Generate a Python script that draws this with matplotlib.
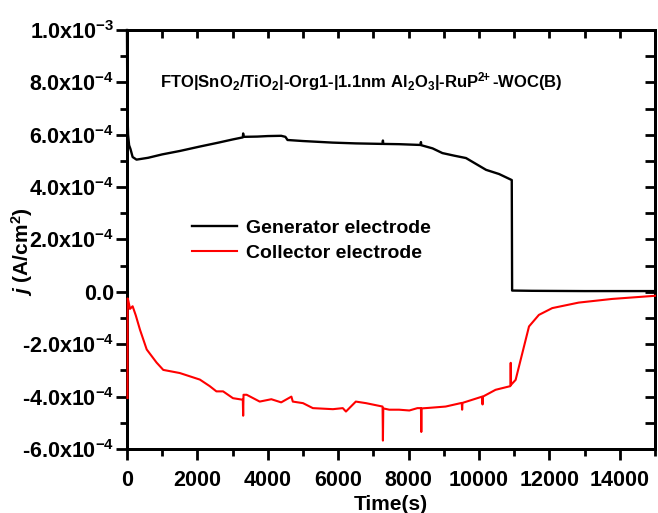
import numpy as np
import matplotlib
matplotlib.use('Agg')
import matplotlib.pyplot as plt
from matplotlib.ticker import MultipleLocator

plt.rcParams['font.family'] = ['Liberation Sans', 'DejaVu Sans']
plt.rcParams['font.weight'] = 'bold'
plt.rcParams['mathtext.fontset'] = 'custom'
plt.rcParams['mathtext.rm'] = 'Liberation Sans:bold'
plt.rcParams['mathtext.bf'] = 'Liberation Sans:bold'
plt.rcParams['mathtext.it'] = 'Liberation Sans:italic:bold'
plt.rcParams['mathtext.default'] = 'regular'

# generator electrode (black), current in units of 1e-4 A/cm2
gen_t = [0, 5, 15, 30, 60, 100, 160, 270, 600, 1000, 1500, 2070, 2600, 3000, 3290,
         3300, 3310, 3700, 4000, 4380, 4500, 4560, 5000, 5840, 6500, 7260, 7270,
         7280, 7730, 8340, 8350, 8360, 8680, 8960, 9300, 9630, 10200, 10570, 10930,
         10940, 11500, 13000, 15000]
gen_j = [10.0, 8.5, 6.8, 6.0, 5.6, 5.45, 5.15, 5.05, 5.12, 5.25, 5.38, 5.55, 5.7, 5.82, 5.9,
         6.05, 5.92, 5.93, 5.95, 5.96, 5.92, 5.80, 5.76, 5.70, 5.67, 5.65, 5.78,
         5.65, 5.64, 5.61, 5.72, 5.60, 5.48, 5.30, 5.20, 5.11, 4.66, 4.50, 4.27,
         0.05, 0.04, 0.03, 0.03]

# collector electrode (red)
col_t = [15, 20, 40, 85, 160, 250, 370, 560, 840, 1030, 1500, 2070, 2350, 2540, 2730,
         3010, 3290, 3300, 3310, 3400, 3770, 4100, 4380, 4670, 4710, 5000, 5280, 5850,
         6130, 6220, 6500, 6790, 7260, 7270, 7280, 7450, 7730, 8020, 8250, 8350, 8360,
         8370, 8580, 9050, 9510, 9520, 9530, 10090, 10100, 10110, 10470, 10890, 10900,
         10910, 11040, 11230, 11420, 11700, 12080, 12830, 13780, 15000]
col_j = [-4.05, -0.25, -0.35, -0.65, -0.55, -0.9, -1.45, -2.2, -2.7, -2.98, -3.1, -3.35, -3.6, -3.8, -3.8,
         -4.06, -4.12, -4.73, -3.93, -3.93, -4.19, -4.1, -4.22, -4.0, -4.19, -4.25, -4.44, -4.48,
         -4.44, -4.57, -4.19, -4.25, -4.38, -5.68, -4.45, -4.5, -4.5, -4.53, -4.44, -4.44, -5.35,
         -4.45, -4.43, -4.38, -4.24, -4.5, -4.24, -4.0, -4.3, -4.0, -3.74, -3.6, -2.71,
         -3.55, -3.36, -2.34, -1.32, -0.88, -0.62, -0.41, -0.27, -0.15]

ytick_vals = [-6e-4, -4e-4, -2e-4, 0, 2e-4, 4e-4, 6e-4, 8e-4, 1e-3]
ytick_labels = ['-6.0x10$^{-4}$', '-4.0x10$^{-4}$', '-2.0x10$^{-4}$', '0.0',
                '2.0x10$^{-4}$', '4.0x10$^{-4}$', '6.0x10$^{-4}$', '8.0x10$^{-4}$',
                '1.0x10$^{-3}$']
xtick_vals = [0, 2000, 4000, 6000, 8000, 10000, 12000, 14000]

fig = plt.figure(figsize=(6.58, 5.13), dpi=100)
ax = fig.add_axes([0.193, 0.1248, 0.8025, 0.8167])

# top / right axes carry the inward ticks
axt = ax.twiny()
axr = ax.twinx()
for a in (axt, axr):
    a.set_xlim(0, 15000)
    a.set_ylim(-6e-4, 1e-3)
    a.set_zorder(1)
axt.set_xticks(xtick_vals)
axt.xaxis.set_minor_locator(MultipleLocator(1000))
axt.tick_params(which='both', direction='in', length=6, width=2, labeltop=False)
axr.set_yticks(ytick_vals)
axr.yaxis.set_minor_locator(MultipleLocator(1e-4))
axr.tick_params(which='both', direction='in', length=7, width=2, labelright=False)
for a in (axt, axr):
    for s in a.spines.values():
        s.set_linewidth(2)
ax.set_zorder(2)
ax.patch.set_visible(False)

ax.plot(gen_t, np.array(gen_j) * 1e-4, color='black', lw=1.7, label='Generator electrode',
        zorder=3, clip_on=False)
ax.plot(col_t, np.array(col_j) * 1e-4, color='red', lw=1.5, label='Collector electrode',
        zorder=3, clip_on=False)

ax.set_xlim(0, 15000)
ax.set_ylim(-6e-4, 1e-3)
ax.set_xticks(xtick_vals)
ax.set_xticklabels([str(v) for v in xtick_vals])
ax.xaxis.set_minor_locator(MultipleLocator(1000))
ax.set_yticks(ytick_vals)
ax.set_yticklabels(ytick_labels)
ax.yaxis.set_minor_locator(MultipleLocator(1e-4))

for s in ax.spines.values():
    s.set_linewidth(2)
ax.tick_params(which='major', direction='out', length=8, width=2, labelsize=15.5)
ax.tick_params(which='minor', direction='out', length=5, width=2)
ax.tick_params(axis='x', which='major', pad=7)
ax.tick_params(axis='y', which='major', pad=1)

ax.set_xlabel('Time(s)', fontsize=15, fontweight='bold', labelpad=3)
ax.set_ylabel(r'$\mathit{j}$ (A/cm$^{2}$)', fontsize=15, fontweight='bold')
ax.yaxis.set_label_coords(-0.175, 0.47)

ax.text(0.0625, 0.876,
        r'FTO|SnO$_{2}$/TiO$_{2}$|-Org1-|1.1nm Al$_{2}$O$_{3}$|-RuP$^{2\!\!+}$-WOC(B)',
        transform=ax.transAxes, fontsize=12, fontweight='bold', ha='left', va='center')

ax.legend(loc='center left', bbox_to_anchor=(0.123, 0.4976), frameon=False,
          prop={'size': 14, 'weight': 'bold'}, handlelength=2.3, handletextpad=0.5,
          labelspacing=0.4, borderpad=0, borderaxespad=0)

fig.savefig('out.png', dpi=100)
